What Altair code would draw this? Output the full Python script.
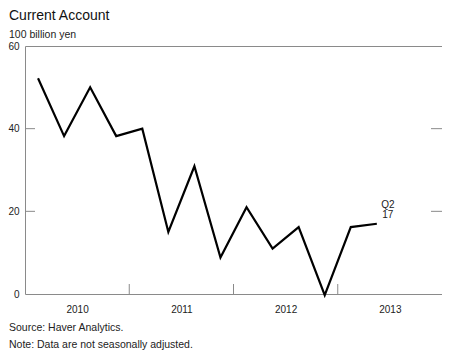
import altair as alt
import pandas as pd

# ---- data ----
QUARTERS = ["2010Q1", "2010Q2", "2010Q3", "2010Q4",
            "2011Q1", "2011Q2", "2011Q3", "2011Q4",
            "2012Q1", "2012Q2", "2012Q3", "2012Q4",
            "2013Q1", "2013Q2"]
VALUES = [52.2, 38.2, 50.0, 38.2, 40.0, 15.0, 30.9, 8.8, 21.0, 11.0, 16.2, -0.3, 16.2, 17.0]
Y_TICKS = [0, 20, 40, 60]
YEAR_LABELS = [2010, 2011, 2012, 2013]
YEAR_BOUNDARIES = [2011, 2012, 2013]
LAST_LABEL = ["Q2", "17"]
FOOTNOTES = ["Source: Haver Analytics.", "Note: Data are not seasonally adjusted."]

FONT = "Liberation Sans"
PAD_L = 17
W, H = 417, 248


def qpos(q):
    year, qq = q.split("Q")
    return int(year) + (int(qq) - 0.5) / 4


df = pd.DataFrame({"quarter": QUARTERS, "t": [qpos(q) for q in QUARTERS], "value": VALUES})
last = df.tail(1)

xscale = alt.Scale(domain=[2010, 2014], nice=False, zero=False)
yscale = alt.Scale(domain=[0, 60], nice=False, zero=False)

line = alt.Chart(df).mark_line(color="black", strokeWidth=2.2, strokeJoin="miter").encode(
    x=alt.X("t:Q", scale=xscale, title=None,
            axis=alt.Axis(values=[y + 0.5 for y in YEAR_LABELS], labelExpr="'' + floor(datum.value)",
                          ticks=False, domain=False, grid=False, labelPadding=10,
                          labelFont=FONT, labelFontSize=10, labelColor="#222")),
    y=alt.Y("value:Q", scale=yscale, title=None,
            axis=alt.Axis(values=Y_TICKS, ticks=False, domain=False, grid=False,
                          labelPadding=6, labelFont=FONT, labelFontSize=10, labelColor="#222")),
)

ytick_df = pd.DataFrame({"value": Y_TICKS[1:-1]})
left_ticks = alt.Chart(ytick_df).mark_rule(color="#8a8a8a", strokeWidth=1).encode(
    y="value:Q", x=alt.value(0), x2=alt.value(10))
right_ticks = alt.Chart(ytick_df).mark_rule(color="#8a8a8a", strokeWidth=1).encode(
    y="value:Q", x=alt.value(W - 11), x2=alt.value(W))

xtick_df = pd.DataFrame({"t": YEAR_BOUNDARIES})
bottom_ticks = alt.Chart(xtick_df).mark_rule(color="#8a8a8a", strokeWidth=1).encode(
    x="t:Q", y=alt.value(H - 10), y2=alt.value(H))

annot = alt.Chart(last).mark_text(text=LAST_LABEL, font=FONT, fontSize=10, color="#222",
                                  align="center", baseline="middle", lineHeight=10,
                                  dx=11, dy=-19).encode(x="t:Q", y="value:Q")

foot = alt.Chart(pd.DataFrame({"k": [0]})).mark_text(
    text=FOOTNOTES, font=FONT, fontSize=10.5, color="#222", align="left",
    baseline="middle", lineHeight=17).encode(
    x=alt.value(-PAD_L + 1),
    y=alt.value(H + 34),
)

chart = alt.layer(line, left_ticks, right_ticks, bottom_ticks, annot, foot).properties(
    width=W, height=H,
    autosize=alt.AutoSizeParams(type="none"),
    padding={"left": PAD_L, "top": 38, "right": 0, "bottom": 62},
    title=alt.TitleParams("Current Account", subtitle="100 billion yen", anchor="start",
                          frame="group", dx=-PAD_L + 1, offset=1, font=FONT, fontSize=14,
                          fontWeight="normal", color="#111", subtitleFont=FONT,
                          subtitleFontSize=10.5, subtitleColor="#222", subtitlePadding=7),
).configure_view(stroke="#8a8a8a", strokeWidth=1)

chart.save("out.html", embed_options={"renderer": "svg", "actions": False})
